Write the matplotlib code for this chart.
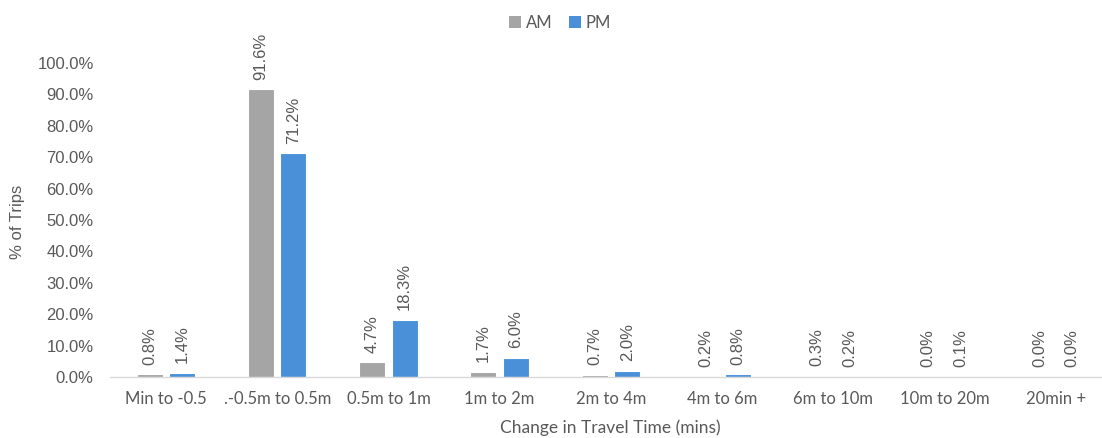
import matplotlib
matplotlib.use("Agg")
import matplotlib.pyplot as plt
import numpy as np
from matplotlib.patches import Patch

categories = ["Min to -0.5", ".-0.5m to 0.5m", "0.5m to 1m", "1m to 2m", "2m to 4m",
              "4m to 6m", "6m to 10m", "10m to 20m", "20min +"]
am_values = [0.8, 91.6, 4.7, 1.7, 0.7, 0.2, 0.3, 0.0, 0.0]
pm_values = [1.4, 71.2, 18.3, 6.0, 2.0, 0.8, 0.2, 0.1, 0.0]
y_ticks = [0, 10, 20, 30, 40, 50, 60, 70, 80, 90, 100]

AM_COLOR = "#A5A5A5"
PM_COLOR = "#4A90D9"
TEXT = "#595959"
NUM_FONT = "Liberation Sans"
CAT_FONT = "Lato"

fig = plt.figure(figsize=(11.02, 4.38), dpi=100)
ax = fig.add_axes([110.4 / 1102, 1 - 377 / 438, 1001 / 1102, 314 / 438])

x = np.arange(len(categories))
bw = 0.234
off = 0.146
ax.bar(x - off, am_values, width=bw, color=AM_COLOR, edgecolor="white", linewidth=0.8, zorder=3)
ax.bar(x + off, pm_values, width=bw, color=PM_COLOR, edgecolor="white", linewidth=0.8, zorder=3)

for xs, vals in ((x - off, am_values), (x + off, pm_values)):
    for xi, v in zip(xs, vals):
        ax.annotate(f"{v:.1f}%", (xi, v), xytext=(0, 7), textcoords="offset points",
                    rotation=90, ha="center", va="bottom", fontsize=12,
                    color=TEXT, fontfamily=NUM_FONT)

ax.set_xlim(-0.5, len(categories) - 0.5)
ax.set_ylim(0, 100)
ax.set_yticks(y_ticks)
ax.set_yticklabels([f"{t:.1f}%" for t in y_ticks], fontfamily=NUM_FONT, fontsize=12, color=TEXT)
ax.set_xticks(x)
ax.set_xticklabels(categories, fontfamily=CAT_FONT, fontsize=12, color=TEXT)
ax.tick_params(axis="both", length=0)
ax.tick_params(axis="y", pad=12)
ax.tick_params(axis="x", pad=10)

for s in ("top", "right", "left"):
    ax.spines[s].set_visible(False)
ax.spines["bottom"].set_color("#D9D9D9")
ax.spines["bottom"].set_linewidth(1.0)
ax.spines["bottom"].set_zorder(4)

fig.text(18 / 1102, 1 - 222 / 438, "% of Trips", rotation=90, ha="center", va="center",
         fontsize=12, color=TEXT, fontfamily=NUM_FONT)
fig.text(610 / 1102, 1 - 428 / 438, "Change in Travel Time (mins)", ha="center", va="center",
         fontsize=12.5, color=TEXT, fontfamily=CAT_FONT)

handles = [Patch(facecolor=AM_COLOR, label="AM"), Patch(facecolor=PM_COLOR, label="PM")]
fig.legend(handles=handles, loc="center", bbox_to_anchor=(560 / 1102, 1 - 23 / 438), ncol=2,
           frameon=False, handlelength=0.7, handleheight=0.7, handletextpad=0.3,
           columnspacing=1.0, prop={"family": CAT_FONT, "size": 12}, labelcolor=TEXT)

fig.savefig("out.png", dpi=100)
